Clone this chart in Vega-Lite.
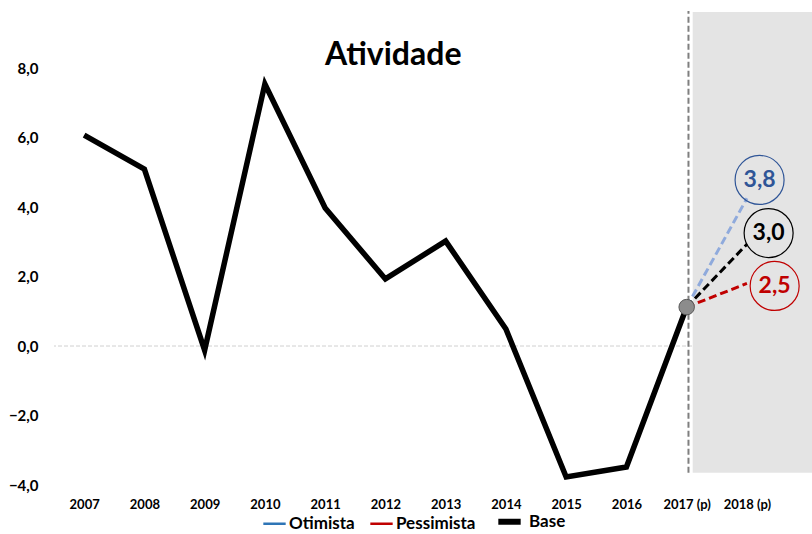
{
  "$schema": "https://vega.github.io/schema/vega-lite/v6.json",
  "width": 758,
  "height": 475,
  "autosize": {"type": "none"},
  "padding": {"left": 54, "top": 10, "right": 0, "bottom": 49},
  "background": "white",
  "config": {
    "view": {"stroke": null},
    "font": "Lato",
    "axis": {"labelFont": "Lato", "labelFontWeight": "bold", "labelColor": "#000000"}
  },
  "datasets": {
    "base": [
      {"year": 2007, "value": 6.07, "series": "Base"},
      {"year": 2008, "value": 5.09, "series": "Base"},
      {"year": 2009, "value": -0.12, "series": "Base"},
      {"year": 2010, "value": 7.54, "series": "Base"},
      {"year": 2011, "value": 3.97, "series": "Base"},
      {"year": 2012, "value": 1.93, "series": "Base"},
      {"year": 2013, "value": 3.02, "series": "Base"},
      {"year": 2014, "value": 0.49, "series": "Base"},
      {"year": 2015, "value": -3.77, "series": "Base"},
      {"year": 2016, "value": -3.48, "series": "Base"},
      {"year": 2017, "value": 1.12, "series": "Base"}
    ],
    "proj": [
      {"scenario": "Otimista", "year": 2017, "value": 1.12},
      {"scenario": "Otimista", "year": 2018, "value": 4.25},
      {"scenario": "Base", "year": 2017, "value": 1.12},
      {"scenario": "Base", "year": 2018, "value": 2.93},
      {"scenario": "Pessimista", "year": 2017, "value": 1.12},
      {"scenario": "Pessimista", "year": 2018, "value": 1.8}
    ],
    "labels": [
      {"scenario": "Otimista", "year": 2018.21, "value": 4.78, "text": "3,8"},
      {"scenario": "Base", "year": 2018.36, "value": 3.25, "text": "3,0"},
      {"scenario": "Pessimista", "year": 2018.46, "value": 1.73, "text": "2,5"}
    ],
    "legend": [
      {"series": "Otimista"},
      {"series": "Pessimista"},
      {"series": "Base"}
    ]
  },
  "layer": [
    {
      "data": {"values": [{"v": 0}]},
      "mark": {"type": "rule", "color": "#D0D0D0", "strokeWidth": 1, "strokeDash": [4, 2]},
      "encoding": {"y": {"field": "v", "type": "quantitative", "scale": {"domain": [-4, 9.67], "nice": false}}}
    },
    {
      "data": {"values": [{"x1": 2017.1, "x2": 2019.08, "y1": -3.65, "y2": 9.61}]},
      "mark": {"type": "rect", "color": "#E4E4E4"},
      "encoding": {
        "x": {"field": "x1", "type": "quantitative"},
        "x2": {"field": "x2"},
        "y": {"field": "y1", "type": "quantitative"},
        "y2": {"field": "y2"}
      }
    },
    {
      "data": {"values": [{"x": 2017.03, "y1": -3.65, "y2": 9.64}]},
      "mark": {"type": "rule", "color": "#7F7F7F", "strokeWidth": 2, "strokeDash": [6, 3]},
      "encoding": {
        "x": {"field": "x", "type": "quantitative"},
        "y": {"field": "y1", "type": "quantitative"},
        "y2": {"field": "y2"}
      }
    },
    {
      "data": {"name": "legend"},
      "mark": {"type": "line", "opacity": 0},
      "encoding": {
        "color": {
          "field": "series",
          "type": "nominal",
          "scale": {"domain": ["Otimista", "Pessimista", "Base"], "range": ["#2E75B6", "#C00000", "#000000"]},
          "legend": {
            "title": null,
            "orient": "none",
            "direction": "horizontal",
            "legendX": 212,
            "legendY": 503,
            "symbolType": "stroke",
            "symbolSize": 500,
            "symbolStrokeWidth": 2.5,
            "labelFontSize": 17,
            "labelFontWeight": "bold",
            "labelFont": "Lato",
            "labelColor": "#000000",
            "labelOffset": 6,
            "columnPadding": 10,
            "encode": {
              "symbols": {"update": {"strokeWidth": {"signal": "datum.value === 'Base' ? 6 : 2.5"}, "strokeCap": {"value": "butt"}}},
              "labels": {"update": {"dx": {"signal": "datum.value === 'Base' ? 5 : 0"}}}
            }
          }
        }
      }
    },
    {
      "data": {"name": "base"},
      "mark": {"type": "line", "color": "#000000", "strokeWidth": 5.5, "strokeJoin": "miter"},
      "encoding": {
        "x": {
          "field": "year",
          "type": "quantitative",
          "scale": {"domain": [2006.5, 2019.08], "nice": false, "zero": false},
          "axis": {
            "values": [2007, 2008, 2009, 2010, 2011, 2012, 2013, 2014, 2015, 2016, 2017, 2018],
            "format": "d",
            "labelExpr": "datum.value >= 2017 ? datum.label + ' (p)' : datum.label",
            "title": null,
            "grid": false,
            "domain": false,
            "ticks": false,
            "labelPadding": 13,
            "labelFontSize": 13,
            "labelFlush": false
          }
        },
        "y": {
          "field": "value",
          "type": "quantitative",
          "scale": {"domain": [-4, 9.67], "nice": false},
          "axis": {
            "values": [-4, -2, 0, 2, 4, 6, 8],
            "format": ".1f",
            "labelExpr": "replace(datum.label, '.', ',')",
            "title": null,
            "grid": false,
            "domain": false,
            "ticks": false,
            "labelPadding": 16,
            "labelFontSize": 15
          }
        }
      }
    },
    {
      "data": {"name": "proj"},
      "mark": {"type": "line", "strokeWidth": 3, "strokeDash": [8, 4]},
      "encoding": {
        "x": {"field": "year", "type": "quantitative"},
        "y": {"field": "value", "type": "quantitative"},
        "detail": {"field": "scenario"},
        "stroke": {
          "field": "scenario",
          "type": "nominal",
          "scale": {"domain": ["Otimista", "Base", "Pessimista"], "range": ["#8FAADC", "#000000", "#C00000"]},
          "legend": null
        }
      }
    },
    {
      "data": {"name": "labels"},
      "mark": {"type": "point", "shape": "circle", "size": 2400, "filled": false, "strokeWidth": 1.2, "opacity": 1},
      "encoding": {
        "x": {"field": "year", "type": "quantitative"},
        "y": {"field": "value", "type": "quantitative"},
        "stroke": {
          "field": "scenario",
          "type": "nominal",
          "scale": {"domain": ["Otimista", "Base", "Pessimista"], "range": ["#2F5597", "#000000", "#C00000"]},
          "legend": null
        }
      }
    },
    {
      "data": {"name": "labels"},
      "mark": {"type": "text", "fontSize": 23, "fontWeight": "bold", "font": "Lato", "align": "center", "baseline": "middle"},
      "encoding": {
        "x": {"field": "year", "type": "quantitative"},
        "y": {"field": "value", "type": "quantitative"},
        "text": {"field": "text"},
        "fill": {
          "field": "scenario",
          "type": "nominal",
          "scale": {"domain": ["Otimista", "Base", "Pessimista"], "range": ["#2F5597", "#000000", "#C00000"]},
          "legend": null
        }
      }
    },
    {
      "data": {"values": [{"year": 2017, "value": 1.12}]},
      "mark": {"type": "point", "shape": "circle", "size": 240, "filled": true, "fill": "#8C8C8C", "stroke": "#595959", "strokeWidth": 1, "opacity": 1},
      "encoding": {
        "x": {"field": "year", "type": "quantitative"},
        "y": {"field": "value", "type": "quantitative"}
      }
    },
    {
      "data": {"values": [{"t": "Atividade"}]},
      "mark": {"type": "text", "fontSize": 32, "fontWeight": "bold", "font": "Lato", "align": "center", "baseline": "middle", "color": "#000000"},
      "encoding": {
        "x": {"datum": 2012.13},
        "y": {"datum": 8.37},
        "text": {"field": "t"}
      }
    }
  ],
  "resolve": {"scale": {"color": "independent", "stroke": "independent", "fill": "independent"}}
}
